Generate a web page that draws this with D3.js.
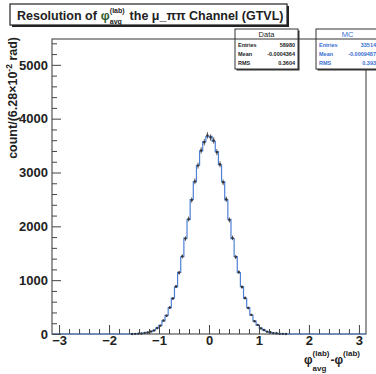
<!DOCTYPE html>
<html>
<head>
<meta charset="utf-8">
<script src="https://cdn.jsdelivr.net/npm/d3@7"></script>
<style>
  body { margin: 0; background: #fff; }
  svg { display: block; font-family: "Liberation Sans", Arial, sans-serif; font-weight: bold; }
</style>
</head>
<body>
<svg id="chart" width="376" height="374"></svg>
<script>
// 100 bins over [-pi, pi], bin width 6.28e-2 rad
const xRange = [-Math.PI, Math.PI];
const nBins = 100;

const dataLeft = [1, 3, 7, 10, 20, 27, 48, 66, 112, 155, 250, 338, 492, 658, 882, 1138, 1442, 1772, 2135, 2488, 2836, 3128, 3410, 3562, 3690];
const dataRight = [3650, 3595, 3378, 3152, 2818, 2502, 2118, 1785, 1430, 1150, 872, 668, 482, 356, 236, 170, 104, 75, 44, 32, 17, 13, 6, 3, 1];
const mcLeft = [2, 4, 6, 11, 18, 29, 45, 70, 108, 160, 245, 345, 485, 665, 875, 1145, 1435, 1780, 2125, 2495, 2825, 3135, 3400, 3575, 3665];
const mcRight = [3670, 3580, 3390, 3140, 2830, 2490, 2130, 1770, 1440, 1140, 880, 660, 490, 350, 240, 165, 110, 72, 46, 30, 19, 12, 7, 4, 2];
const emptyBins = [0, 0, 0, 0, 0, 0, 0, 0, 0, 0, 0, 0, 0, 0, 0, 0, 0, 0, 0, 0, 0, 0, 0, 0, 0];

const dataCounts = [...emptyBins, ...dataLeft, ...dataRight, ...emptyBins];
const mcCounts = [...emptyBins, ...mcLeft, ...mcRight, ...emptyBins];

const xTicks = [-3, -2, -1, 0, 1, 2, 3];
const yTicks = [0, 1000, 2000, 3000, 4000, 5000];
const yMax = 5480;

const dataStats = [["Entries", "58980"], ["Mean", "-0.0004364"], ["RMS", "0.3604"]];
const mcStats = [["Entries", "33514"], ["Mean", "-0.0009487"], ["RMS", "0.393"]];

const svg = d3.select("#chart");
const frame = { left: 52, right: 366, top: 39, bottom: 334 };

const x = d3.scaleLinear().domain(xRange).range([frame.left, frame.right]);
const y = d3.scaleLinear().domain([0, yMax]).range([frame.bottom, frame.top]);
const binW = (xRange[1] - xRange[0]) / nBins;
const edge = i => xRange[0] + i * binW;

// frame
svg.append("rect")
  .attr("x", frame.left).attr("y", frame.top)
  .attr("width", frame.right - frame.left).attr("height", frame.bottom - frame.top)
  .attr("fill", "none").attr("stroke", "#555").attr("stroke-width", 1.2);

// MC histogram (blue step line)
const steps = mcCounts.map((c, i) => [edge(i), c]);
steps.push([edge(nBins), mcCounts[nBins - 1]]);
svg.append("path")
  .datum(steps)
  .attr("fill", "none")
  .attr("stroke", "#4f80d4")
  .attr("stroke-width", 1.2)
  .attr("d", d3.line().x(d => x(d[0])).y(d => y(d[1])).curve(d3.curveStepAfter));

// data points with errors
const pts = dataCounts.map((c, i) => ({ xc: edge(i) + binW / 2, c })).filter(d => d.c > 0);
svg.append("g").selectAll("line")
  .data(pts).join("line")
  .attr("x1", d => x(d.xc)).attr("x2", d => x(d.xc))
  .attr("y1", d => y(d.c + Math.sqrt(d.c))).attr("y2", d => y(Math.max(0, d.c - Math.sqrt(d.c))))
  .attr("stroke", "#333").attr("stroke-width", 0.8);
svg.append("g").selectAll("circle")
  .data(pts).join("circle")
  .attr("cx", d => x(d.xc)).attr("cy", d => y(d.c))
  .attr("r", 1.2).attr("fill", "#333");

// axes with inward ticks
const yMinor = d3.range(0, yMax, 200).filter(v => v % 1000 !== 0);
const xMinor = d3.range(-30, 31, 2).map(v => v / 10).filter(v => !Number.isInteger(v));

function styleAxis(g) {
  g.select(".domain").remove();
  g.selectAll(".tick line").attr("stroke", "#444").attr("stroke-width", 1);
  g.selectAll("text").attr("fill", "#222").style("font-size", "13px").style("font-weight", "bold")
    .style("font-family", "'Liberation Sans', Arial, sans-serif");
}

svg.append("g").attr("transform", `translate(${frame.left},0)`)
  .call(d3.axisLeft(y).tickValues(yTicks).tickSize(-9).tickPadding(4).tickFormat(d3.format("d")))
  .call(styleAxis);
svg.append("g").attr("transform", `translate(${frame.left},0)`)
  .call(d3.axisLeft(y).tickValues(yMinor).tickSize(-5).tickFormat(""))
  .call(styleAxis);

svg.append("g").attr("transform", `translate(0,${frame.bottom})`)
  .call(d3.axisBottom(x).tickValues(xTicks).tickSize(-9).tickPadding(2).tickFormat(d3.format("d")))
  .call(styleAxis);
svg.append("g").attr("transform", `translate(0,${frame.bottom})`)
  .call(d3.axisBottom(x).tickValues(xMinor).tickSize(-5).tickFormat(""))
  .call(styleAxis);

// y axis title
const yt = svg.append("text")
  .attr("transform", "translate(17,37) rotate(-90)")
  .attr("text-anchor", "end")
  .attr("fill", "#222")
  .style("font-size", "12.5px");
yt.append("tspan").text("count/(6.28\u00d710");
yt.append("tspan").attr("dy", -5).style("font-size", "8.5px").text("-2");
yt.append("tspan").attr("dy", 5).text(" rad)");

// helper: place text pieces left to right, measuring widths
function piece(x0, y0, txt, size, color) {
  const t = svg.append("text").attr("x", x0).attr("y", y0).attr("fill", color || "#222")
    .style("font-size", size + "px").text(txt);
  return t.node().getComputedTextLength();
}

// x axis title
{
  let px = 304;
  px += piece(px, 364, "\u03c6", 12);
  const w1 = piece(px, 371, "avg", 8);
  const w2 = piece(px, 356, "(lab)", 8);
  px += Math.max(w1, w2) + 1;
  px += piece(px, 364, "-\u03c6", 12);
  piece(px, 356, "(lab)", 8);
}

// title box
svg.append("rect").attr("x", 12).attr("y", 6).attr("width", 277).attr("height", 21).attr("fill", "#222");
svg.append("rect").attr("x", 10).attr("y", 4).attr("width", 277).attr("height", 21)
  .attr("fill", "#fff").attr("stroke", "#222").attr("stroke-width", 1.2);
{
  let px = 17;
  px += piece(px, 20, "Resolution of", 12.5) + 4;
  px += piece(px, 20, "\u03c6", 12.5, "#2f5a2f");
  const w1 = piece(px, 13, "(lab)", 7);
  const w2 = piece(px, 24, "avg", 7);
  px += Math.max(w1, w2) + 5;
  piece(px, 20, "the \u03bc_\u03c0\u03c0 Channel (GTVL)", 12.5);
}

// stats boxes
function statsBox(x0, y0, w, title, rows, color) {
  const g = svg.append("g").attr("transform", `translate(${x0},${y0})`);
  g.append("rect").attr("x", 1.5).attr("y", 1.5).attr("width", w).attr("height", 40).attr("fill", "#333");
  g.append("rect").attr("width", w).attr("height", 40).attr("fill", "#fff").attr("stroke", "#333").attr("stroke-width", 1);
  g.append("line").attr("x1", 0).attr("x2", w).attr("y1", 10).attr("y2", 10).attr("stroke", "#333");
  g.append("text").attr("x", w / 2).attr("y", 8).attr("text-anchor", "middle")
    .attr("fill", color).style("font-size", "7.5px").style("font-weight", "normal").text(title);
  rows.forEach((r, i) => {
    const ry = 18 + i * 9;
    g.append("text").attr("x", 3).attr("y", ry).attr("fill", color).style("font-size", "5.5px").text(r[0]);
    g.append("text").attr("x", w - 3).attr("y", ry).attr("text-anchor", "end").attr("fill", color).style("font-size", "5.5px").text(r[1]);
  });
}
statsBox(235, 29, 63, "Data", dataStats, "#222");
statsBox(316, 29, 63, "MC", mcStats, "#3a6fd0");
</script>
</body>
</html>
